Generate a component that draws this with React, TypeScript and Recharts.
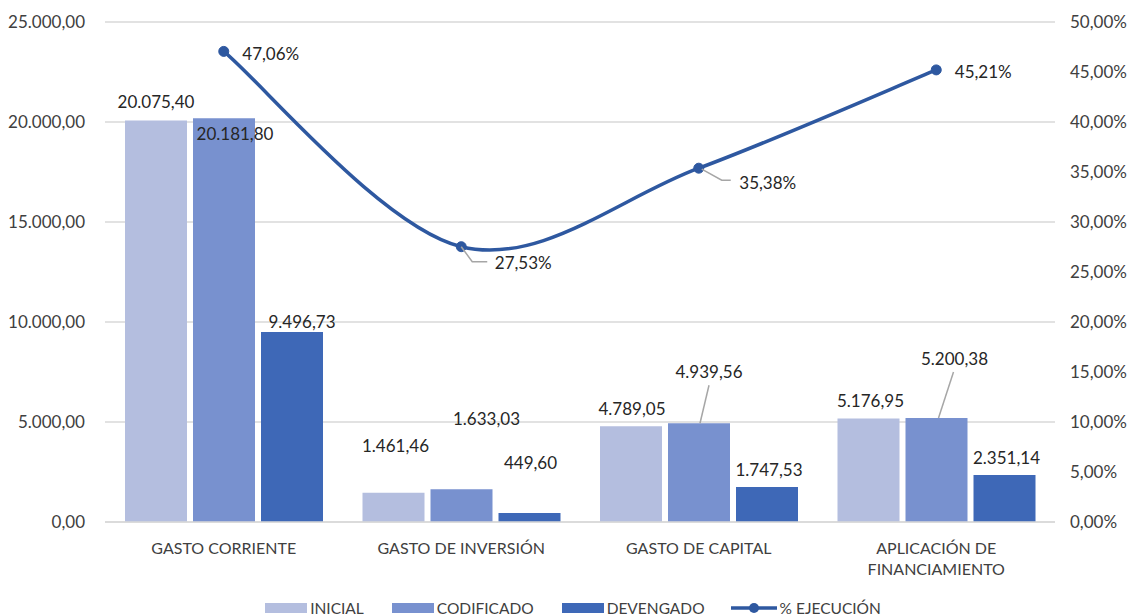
import React from 'react';
import { ComposedChart, Bar, Line, XAxis, YAxis, CartesianGrid, LabelList, Legend } from 'recharts';

const categories = ['GASTO CORRIENTE', 'GASTO DE INVERSIÓN', 'GASTO DE CAPITAL', 'APLICACIÓN DE FINANCIAMIENTO'];
const inicial = [20075.4, 1461.46, 4789.05, 5176.95];
const codificado = [20181.8, 1633.03, 4939.56, 5200.38];
const devengado = [9496.73, 449.6, 1747.53, 2351.14];
const ejecucion = [47.06, 27.53, 35.38, 45.21];
const leftTicks = [0, 5000, 10000, 15000, 20000, 25000];
const rightTicks = [0, 5, 10, 15, 20, 25, 30, 35, 40, 45, 50];

const data = categories.map((cat, i) => ({
  cat,
  inicial: inicial[i],
  codificado: codificado[i],
  devengado: devengado[i],
  ejecucion: ejecucion[i],
}));

const FONT = 'Lato, "Open Sans", sans-serif';
const C_INI = '#B4BEDF';
const C_COD = '#7891CF';
const C_DEV = '#3E68B7';
const C_LINE = '#2E58A0';
const C_LEADER = '#A6A6A6';

// label placement (text centre relative to bar-top centre / point), optional leader polyline
type LabelPos = { dx: number; dy: number; leader?: [number, number][] };
const iniPos: LabelPos[] = [
  { dx: 0, dy: -19 }, { dx: 2, dy: -47 }, { dx: 1, dy: -18 }, { dx: 2, dy: -18 },
];
const codPos: LabelPos[] = [
  { dx: 11, dy: 15 }, { dx: 25, dy: -71 },
  { dx: 10, dy: -52, leader: [[1, 0], [10, -38]] },
  { dx: 18, dy: -59, leader: [[2, 0], [17, -46]] },
];
const devPos: LabelPos[] = [
  { dx: 10, dy: -11 }, { dx: 1, dy: -51 }, { dx: 2, dy: -18 }, { dx: 2, dy: -17 },
];
const linePos: LabelPos[] = [
  { dx: 47, dy: 2 },
  { dx: 62, dy: 16, leader: [[0, 0], [11, 15], [26, 15]] },
  { dx: 69, dy: 14, leader: [[3, 1], [23, 12], [32, 12]] },
  { dx: 47, dy: 2 },
];

const fmtNum = (v: number) => {
  const [int, dec] = Number(v).toFixed(2).split('.');
  return int.replace(/\B(?=(\d{3})+(?!\d))/g, '.') + ',' + dec;
};
const fmtPct = (v: number) => Number(v).toFixed(2).replace('.', ',') + '%';

function excelCurve(context: any) {
  let pts: [number, number][] = [];
  return {
    areaStart() {},
    areaEnd() {},
    lineStart() { pts = []; },
    point(x: number, y: number) { pts.push([+x, +y]); },
    lineEnd() {
      const n = pts.length;
      if (!n) return;
      context.moveTo(pts[0][0], pts[0][1]);
      if (n === 1) return;
      for (let i = 0; i < n - 1; i++) {
        const p0 = pts[Math.max(0, i - 1)];
        const p1 = pts[i];
        const p2 = pts[i + 1];
        const p3 = pts[Math.min(n - 1, i + 2)];
        const c1x = p1[0] + (p2[0] - p0[0]) / 6;
        const c1y = p1[1] + (p2[1] - p0[1]) / 6;
        const c2x = p2[0] - (p3[0] - p1[0]) / 6;
        const c2y = p2[1] - (p3[1] - p1[1]) / 6;
        context.bezierCurveTo(c1x, c1y, c2x, c2y, p2[0], p2[1]);
      }
    },
  };
}

const makeLabel = (positions: LabelPos[], fmt: (v: number) => string) => (props: any) => {
  const { x, y, width, value, index } = props;
  const cx = width !== undefined ? Number(x) + Number(width) / 2 : Number(x);
  const cy = Number(y);
  const p = positions[index] || { dx: 0, dy: -18 };
  return (
    <g>
      {p.leader && (
        <polyline
          points={p.leader.map(([a, b]) => `${cx + a},${cy + b}`).join(' ')}
          fill="none"
          stroke={C_LEADER}
          strokeWidth={1.5}
        />
      )}
      <text
        x={cx + p.dx}
        y={cy + p.dy}
        textAnchor="middle"
        dominantBaseline="central"
        fontFamily={FONT}
        fontSize={17}
        fill="#262626"
      >
        {fmt(value)}
      </text>
    </g>
  );
};

const wrapWords = (s: string, max: number) => {
  const words = s.split(' ');
  const lines: string[] = [];
  let cur = '';
  words.forEach((w) => {
    const t = cur ? cur + ' ' + w : w;
    if (t.length > max && cur) {
      lines.push(cur);
      cur = w;
    } else cur = t;
  });
  if (cur) lines.push(cur);
  return lines;
};

const CatTick = (props: any) => {
  const { x, y, payload } = props;
  const lines = wrapWords(String(payload.value), 20);
  return (
    <text x={x} y={y + 30} textAnchor="middle" fontFamily={FONT} fontSize={16} fill="#404040">
      {lines.map((l, i) => (
        <tspan key={i} x={x} dy={i === 0 ? 0 : 21}>{l}</tspan>
      ))}
    </text>
  );
};

const LegendContent = () => {
  const item = (label: string, swatch: React.ReactNode, mr: number) => (
    <div style={{ display: 'flex', alignItems: 'center', marginRight: mr }}>
      {swatch}
      <span style={{ marginLeft: 3 }}>{label}</span>
    </div>
  );
  const box = (c: string) => <div style={{ width: 42, height: 10, background: c }} />;
  const lineSw = (
    <svg width={46} height={12}>
      <line x1={0} y1={6} x2={46} y2={6} stroke={C_LINE} strokeWidth={3.5} />
      <circle cx={23} cy={6} r={5} fill={C_LINE} />
    </svg>
  );
  return (
    <div
      style={{
        display: 'flex',
        justifyContent: 'center',
        alignItems: 'center',
        fontFamily: FONT,
        fontSize: 15.5,
        color: '#404040',
        paddingLeft: 12,
      }}
    >
      {item('INICIAL', box(C_INI), 28)}
      {item('CODIFICADO', box(C_COD), 28)}
      {item('DEVENGADO', box(C_DEV), 26)}
      {item('% EJECUCIÓN', lineSw, 0)}
    </div>
  );
};

export default function App() {
  return (
    <div style={{ position: 'absolute', left: 0, top: 0, width: 1134, height: 616, background: '#fff' }}>
      <ComposedChart
        width={1134}
        height={616}
        data={data}
        margin={{ top: 22, right: 0, bottom: 0, left: 0 }}
        barCategoryGap={20}
        barGap={6}
      >
        <CartesianGrid vertical={false} stroke="#D9D9D9" strokeWidth={1.3} yAxisId="l" />
        <XAxis
          dataKey="cat"
          interval={0}
          tick={<CatTick />}
          tickLine={false}
          tickSize={0}
          axisLine={{ stroke: '#D9D9D9', strokeWidth: 1.3 }}
          height={94}
        />
        <YAxis
          yAxisId="l"
          width={105}
          domain={[0, 25000]}
          ticks={leftTicks}
          tickFormatter={fmtNum}
          axisLine={false}
          tickLine={false}
          tickSize={0}
          tickMargin={20}
          tick={{ fontFamily: FONT, fontSize: 17, fill: '#404040' }}
        />
        <YAxis
          yAxisId="r"
          orientation="right"
          width={79}
          domain={[0, 50]}
          ticks={rightTicks}
          tickFormatter={fmtPct}
          axisLine={false}
          tickLine={false}
          tickSize={0}
          tickMargin={15}
          tick={{ fontFamily: FONT, fontSize: 17, fill: '#404040' }}
        />
        <Legend
          verticalAlign="middle"
          align="center"
          layout="horizontal"
          content={<LegendContent />}
          wrapperStyle={{ top: 599, left: 0, width: 1134 }}
        />
        <Bar yAxisId="l" dataKey="inicial" name="INICIAL" fill={C_INI} isAnimationActive={false}>
          <LabelList dataKey="inicial" content={makeLabel(iniPos, fmtNum)} />
        </Bar>
        <Bar yAxisId="l" dataKey="codificado" name="CODIFICADO" fill={C_COD} isAnimationActive={false}>
          <LabelList dataKey="codificado" content={makeLabel(codPos, fmtNum)} />
        </Bar>
        <Bar yAxisId="l" dataKey="devengado" name="DEVENGADO" fill={C_DEV} isAnimationActive={false}>
          <LabelList dataKey="devengado" content={makeLabel(devPos, fmtNum)} />
        </Bar>
        <Line
          yAxisId="r"
          dataKey="ejecucion"
          name="% EJECUCIÓN"
          type={excelCurve as any}
          stroke={C_LINE}
          strokeWidth={3.5}
          dot={{ r: 5, fill: C_LINE, stroke: C_LINE, strokeWidth: 1 }}
          isAnimationActive={false}
        >
          <LabelList dataKey="ejecucion" content={makeLabel(linePos, fmtPct)} />
        </Line>
      </ComposedChart>
    </div>
  );
}
